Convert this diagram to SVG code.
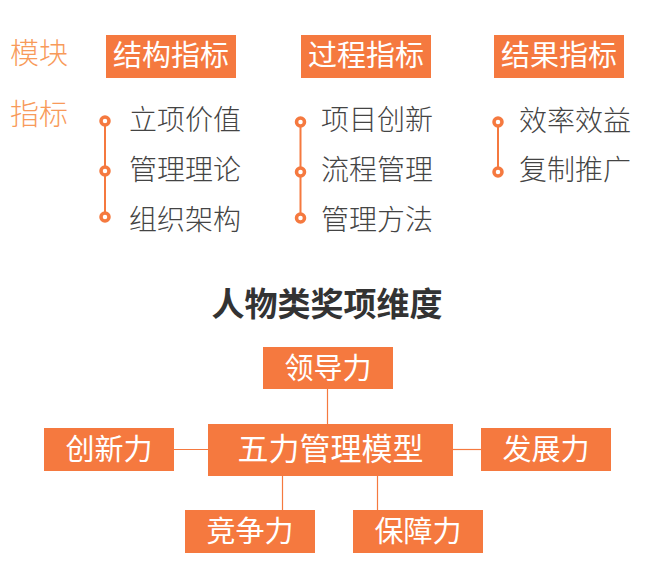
<svg xmlns="http://www.w3.org/2000/svg" width="658" height="567" viewBox="0 0 658 567">
<style>
.box{fill:#f5793f}
.bt{font-family:"Noto Sans CJK SC","Noto Sans",sans-serif;fill:#ffffff;text-anchor:middle;font-weight:400}
.lbl{font-family:"Noto Sans CJK SC","Noto Sans",sans-serif;fill:#f89a5a;font-size:29px;font-weight:300}
.item{font-family:"Noto Sans CJK SC","Noto Sans",sans-serif;fill:#444444;font-size:28px;font-weight:300}
.dot{fill:#ffffff;stroke:#f5793f;stroke-width:3.5}
.vl{stroke:#f5793f;stroke-width:2}
.con{stroke:#f5793f;stroke-width:1.2;fill:none}
.title{font-family:"Noto Sans CJK SC","Noto Sans",sans-serif;fill:#333333;font-size:33px;font-weight:bold;text-anchor:middle}
</style>
<rect width="658" height="567" fill="#ffffff"/>
<g id="labels">
<text class="lbl" x="10" y="64">模块</text>
<text class="lbl" x="10" y="125">指标</text>
</g>
<g id="col-structure">
<rect class="box" x="106" y="35" width="130" height="43"/>
<text class="bt" x="171" y="66" font-size="29">结构指标</text>
<line class="vl" x1="105" y1="121" x2="105" y2="217"/>
<circle class="dot" cx="105" cy="121" r="4"/>
<circle class="dot" cx="105" cy="171" r="4"/>
<circle class="dot" cx="105" cy="217" r="4"/>
<text class="item" x="129" y="130">立项价值</text>
<text class="item" x="129" y="180">管理理论</text>
<text class="item" x="129" y="230">组织架构</text>
</g>
<g id="col-process">
<rect class="box" x="301" y="35" width="130" height="43"/>
<text class="bt" x="366" y="66" font-size="29">过程指标</text>
<line class="vl" x1="300.5" y1="122" x2="300.5" y2="218"/>
<circle class="dot" cx="300.5" cy="122" r="4"/>
<circle class="dot" cx="300.5" cy="172" r="4"/>
<circle class="dot" cx="300.5" cy="218" r="4"/>
<text class="item" x="321" y="130">项目创新</text>
<text class="item" x="321" y="180">流程管理</text>
<text class="item" x="321" y="230">管理方法</text>
</g>
<g id="col-result">
<rect class="box" x="494" y="35" width="130" height="43"/>
<text class="bt" x="559" y="66" font-size="29">结果指标</text>
<line class="vl" x1="498" y1="122" x2="498" y2="172"/>
<circle class="dot" cx="498" cy="122" r="4"/>
<circle class="dot" cx="498" cy="172" r="4"/>
<text class="item" x="519" y="131">效率效益</text>
<text class="item" x="519" y="180">复制推广</text>
</g>
<text class="title" x="327" y="316">人物类奖项维度</text>
<g id="connectors">
<line class="con" x1="327.5" y1="389" x2="327.5" y2="424"/>
<line class="con" x1="174" y1="449.5" x2="208" y2="449.5"/>
<line class="con" x1="453" y1="449.5" x2="481" y2="449.5"/>
<line class="con" x1="282.5" y1="476" x2="282.5" y2="510"/>
<line class="con" x1="377.5" y1="476" x2="377.5" y2="510"/>
</g>
<g id="node-center">
<rect class="box" x="208" y="424" width="245" height="52"/>
<text class="bt" x="330.5" y="460" font-size="31">五力管理模型</text>
</g>
<g id="node-lead">
<rect class="box" x="263" y="347" width="130" height="42"/>
<text class="bt" x="328" y="379" font-size="29">领导力</text>
</g>
<g id="node-innov">
<rect class="box" x="44" y="428" width="130" height="43"/>
<text class="bt" x="109" y="460" font-size="29">创新力</text>
</g>
<g id="node-dev">
<rect class="box" x="481" y="428" width="130" height="43"/>
<text class="bt" x="546" y="460" font-size="29">发展力</text>
</g>
<g id="node-comp">
<rect class="box" x="185" y="510" width="130" height="43"/>
<text class="bt" x="250" y="542" font-size="29">竞争力</text>
</g>
<g id="node-guar">
<rect class="box" x="353" y="510" width="130" height="43"/>
<text class="bt" x="418" y="542" font-size="29">保障力</text>
</g>
</svg>
